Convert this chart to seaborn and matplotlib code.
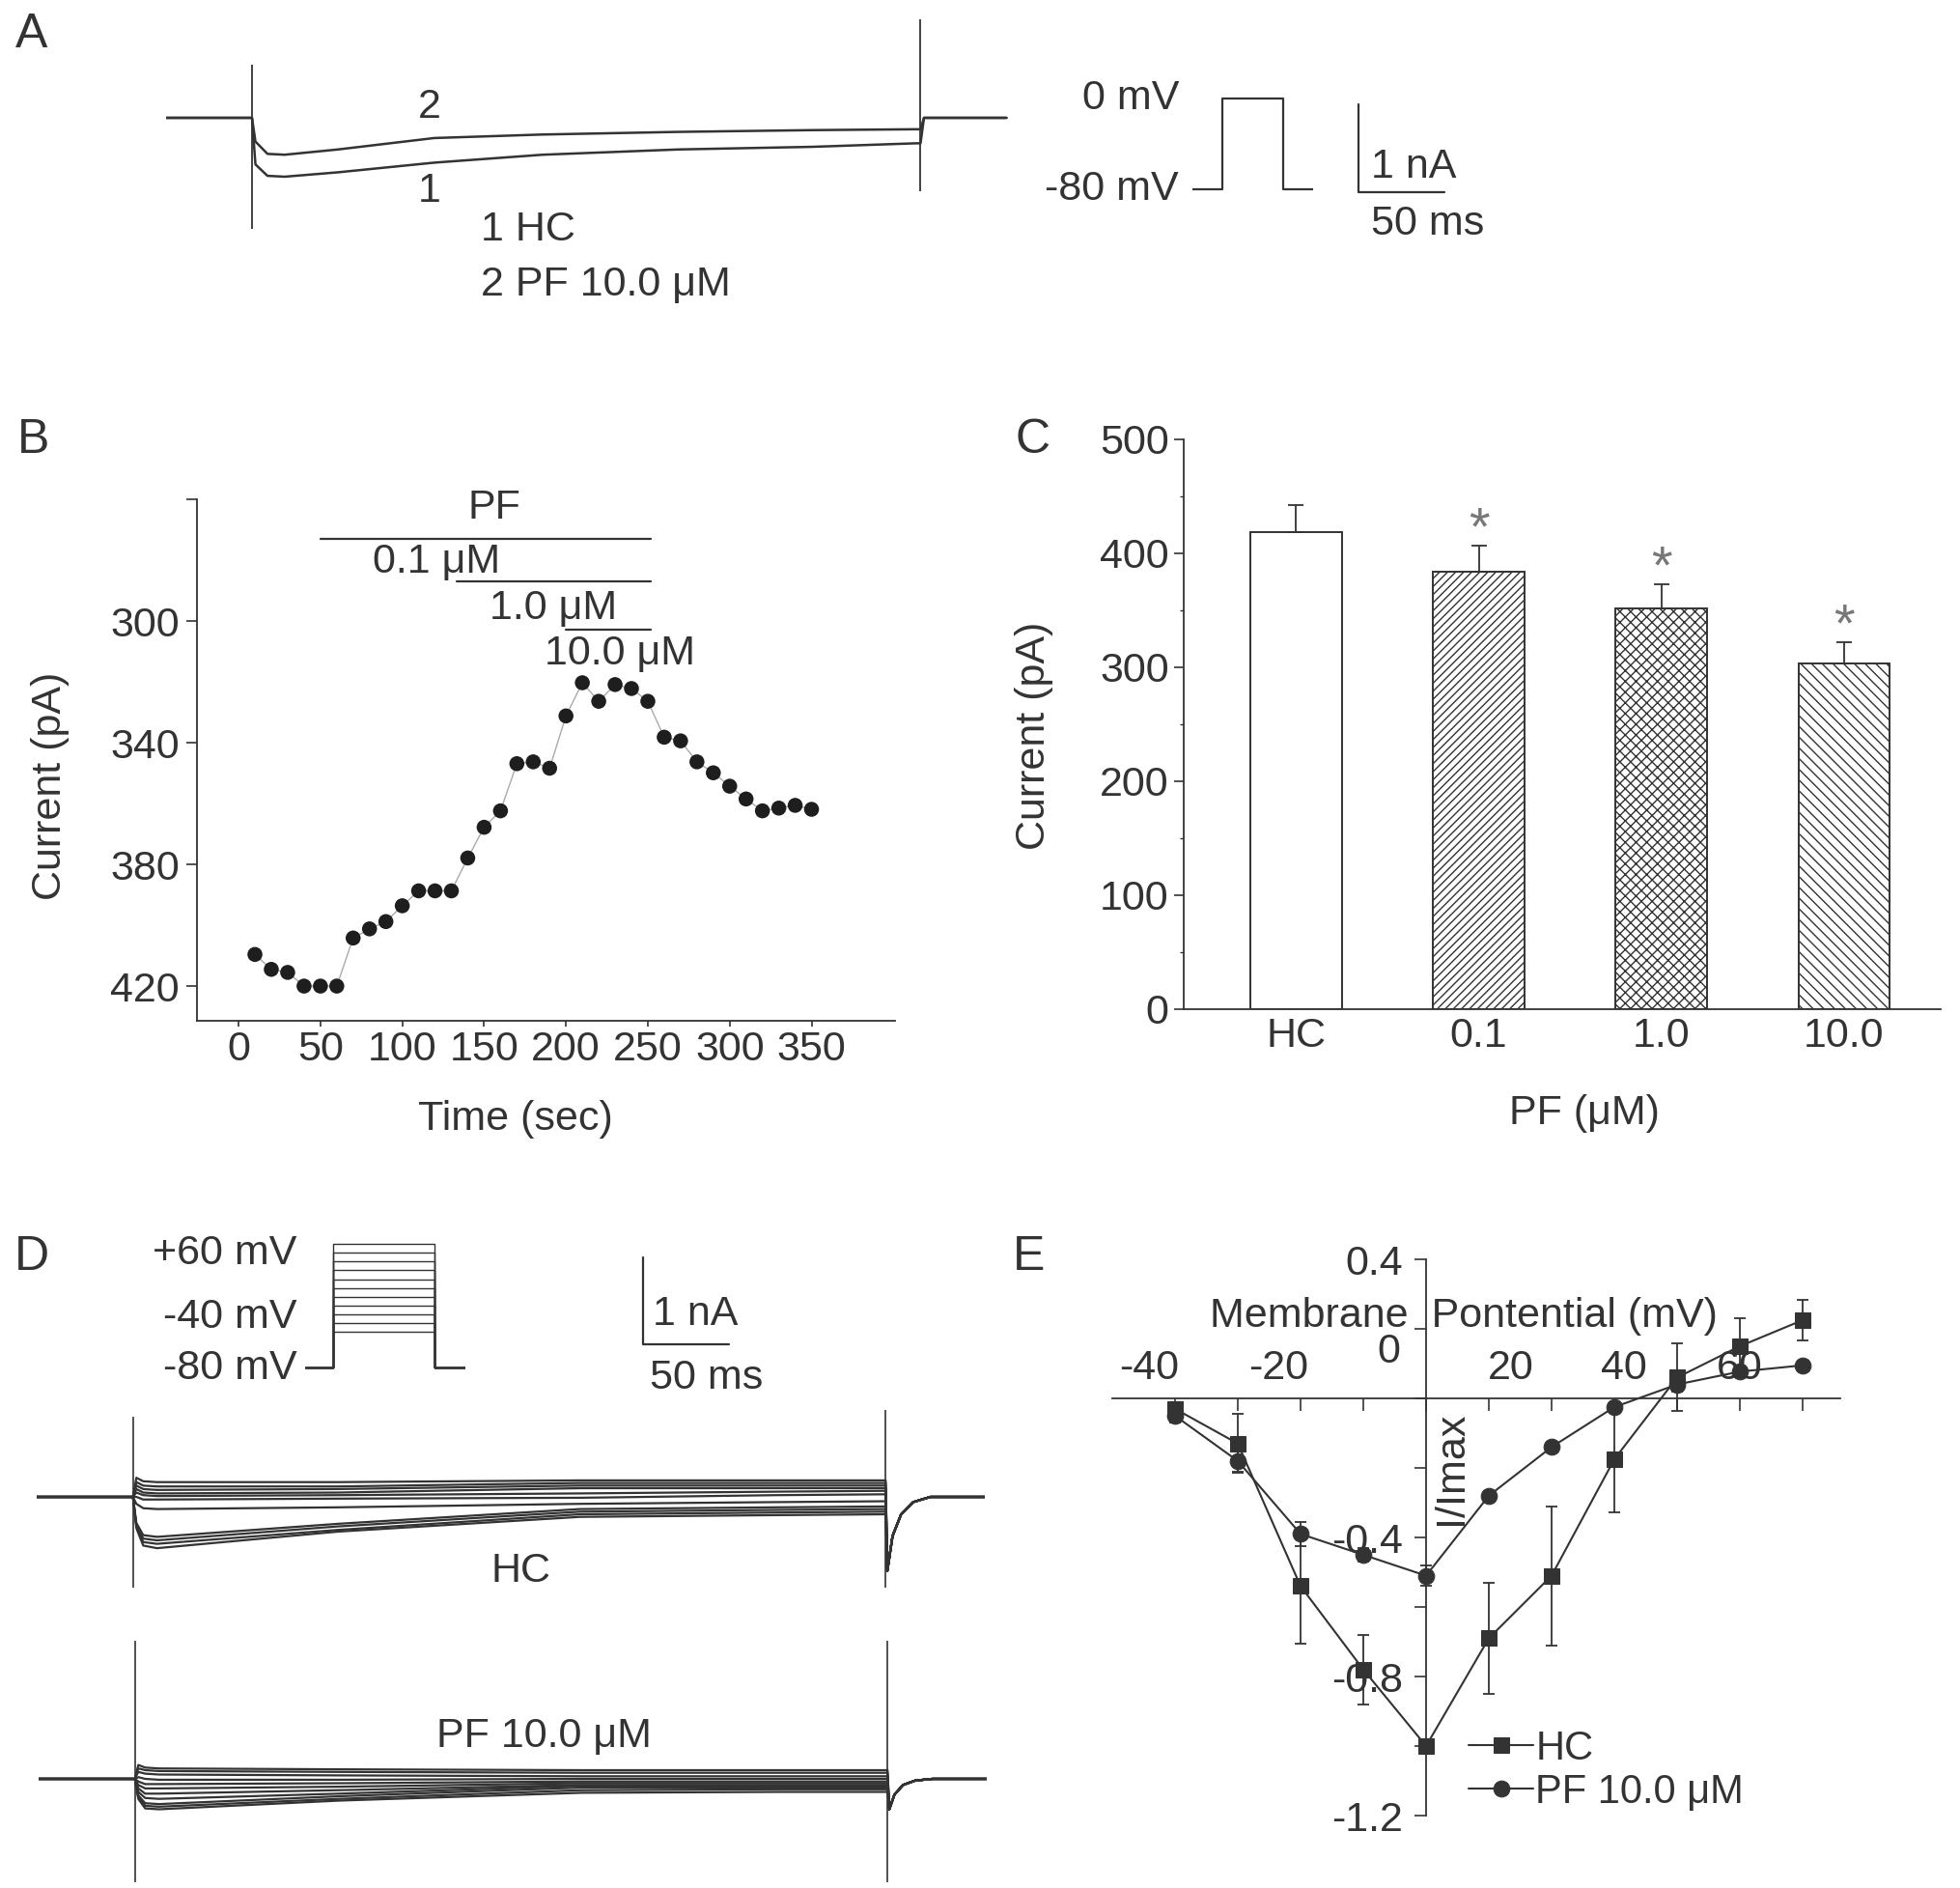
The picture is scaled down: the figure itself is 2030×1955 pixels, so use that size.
import matplotlib
matplotlib.use('Agg')
import matplotlib.pyplot as plt
import seaborn as sns

sns.set_theme(style='ticks')
plt.rcParams['font.family'] = ['Liberation Sans', 'DejaVu Sans']
plt.rcParams['hatch.color'] = '#444444'
plt.rcParams['hatch.linewidth'] = 1.0

INK = '#333333'
W, H = 2031, 1955
FS = 31

# ---------------- data ----------------
# Panel A: representative current traces (time in ms, current in nA)
a_time = [0, 50, 52, 59, 69, 100, 156, 219, 298, 376, 436, 439, 441, 489]
a_hc = [0, 0, -0.53, -0.66, -0.67, -0.62, -0.51, -0.42, -0.36, -0.33, -0.29, -0.29, 0, 0]
a_pf = [0, 0, -0.27, -0.41, -0.42, -0.36, -0.23, -0.19, -0.16, -0.14, -0.13, -0.13, 0, 0]
a_art_time = [50, 439]
a_art_top = [0.60, 1.12]
a_art_bot = [-1.26, -0.84]
a_prot_t = [0, 1, 1, 3, 3, 4]
a_prot_v = [-80, -80, 0, 0, -80, -80]
scale_ms = 50
scale_na = 1

# Panel B: time course of current
b_time = [10, 20, 30, 40, 50, 60, 70, 80, 90, 100, 110, 120, 130, 140, 150, 160, 170, 180,
          190, 200, 210, 220, 230, 240, 250, 260, 270, 280, 290, 300, 310, 320, 330, 340, 350]
b_current = [409.6, 414.5, 415.5, 420, 420, 420, 404.2, 401.2, 398.8, 393.6, 388.7, 388.7,
             388.7, 377.9, 367.8, 362.4, 346.9, 346.3, 348.4, 331.2, 320.3, 326.4, 320.9,
             322.2, 326.4, 338.2, 339.4, 346.3, 349.9, 354.3, 358.5, 362.4, 361.5, 360.6, 361.9]
b_dose_labels = ['0.1 μM', '1.0 μM', '10.0 μM']
b_dose_start = [50, 133, 200]
b_dose_end = [252, 252, 252]

# Panel C: mean current per group
c_groups = ['HC', '0.1', '1.0', '10.0']
c_mean = [419, 384, 352, 303]
c_sem = [23, 23, 21, 19]
c_sig = ['', '*', '*', '*']

# Panel D: family of current traces (time in ms, current in nA)
d_time = [0, 56, 58, 62, 70, 175, 316, 430, 494]
d_tail_time = [495, 498, 503, 510, 520, 552]
d_hc = [
    [0, 0, 0.22, 0.18, 0.17, 0.17, 0.19, 0.19, 0.19],
    [0, 0, 0.17, 0.13, 0.12, 0.12, 0.16, 0.16, 0.16],
    [0, 0, 0.13, 0.09, 0.08, 0.09, 0.13, 0.13, 0.13],
    [0, 0, 0.09, 0.05, 0.04, 0.05, 0.10, 0.10, 0.10],
    [0, 0, 0.05, 0.02, 0.01, 0.02, 0.04, 0.06, 0.07],
    [0, 0, 0.00, -0.03, -0.03, -0.02, -0.01, 0.02, 0.03],
    [0, 0, -0.08, -0.13, -0.14, -0.12, -0.08, -0.06, -0.05],
    [0, 0, -0.30, -0.44, -0.46, -0.31, -0.14, -0.12, -0.11],
    [0, 0, -0.32, -0.48, -0.50, -0.34, -0.17, -0.15, -0.14],
    [0, 0, -0.34, -0.52, -0.54, -0.38, -0.20, -0.18, -0.17],
    [0, 0, -0.36, -0.56, -0.59, -0.40, -0.23, -0.21, -0.20],
]
d_pf = [
    [0, 0, 0.16, 0.13, 0.12, 0.11, 0.10, 0.10, 0.10],
    [0, 0, 0.12, 0.10, 0.09, 0.08, 0.07, 0.07, 0.07],
    [0, 0, 0.08, 0.06, 0.05, 0.04, 0.03, 0.03, 0.03],
    [0, 0, 0.02, 0.00, -0.01, -0.01, 0.00, 0.00, 0.00],
    [0, 0, -0.03, -0.06, -0.06, -0.05, -0.03, -0.03, -0.03],
    [0, 0, -0.07, -0.11, -0.11, -0.09, -0.05, -0.05, -0.05],
    [0, 0, -0.11, -0.17, -0.17, -0.13, -0.07, -0.07, -0.07],
    [0, 0, -0.15, -0.22, -0.23, -0.17, -0.08, -0.08, -0.08],
    [0, 0, -0.19, -0.28, -0.29, -0.20, -0.10, -0.10, -0.10],
    [0, 0, -0.21, -0.31, -0.32, -0.23, -0.13, -0.12, -0.12],
    [0, 0, -0.23, -0.34, -0.35, -0.25, -0.16, -0.15, -0.15],
]
d_hc_tail = [-0.85, -0.45, -0.20, -0.06, 0, 0]
d_pf_tail = [-0.35, -0.18, -0.07, -0.02, 0, 0]
d_art_time = [56, 494]
d_hc_art_top = [0.92, 1.00]
d_hc_art_bot = [-1.04, -1.04]
d_pf_art_top = [1.59, 1.59]
d_pf_art_bot = [-1.19, -1.19]
d_prot_t = [0, 10, 10, 46, 46, 57]
d_prot_levels = [-40, -30, -20, -10, 0, 10, 20, 30, 40, 50, 60]
d_hold = -80

# Panel E: normalized I-V relation
e_voltage = [-40, -30, -20, -10, 0, 10, 20, 30, 40, 50, 60]
e_hc = [-0.03, -0.13, -0.54, -0.78, -1.00, -0.69, -0.51, -0.175, 0.06, 0.15, 0.225]
e_hc_err = [0.02, 0.085, 0.165, 0.10, 0.02, 0.16, 0.20, 0.153, 0.097, 0.08, 0.057]
e_pf = [-0.05, -0.18, -0.39, -0.45, -0.51, -0.28, -0.14, -0.025, 0.04, 0.077, 0.095]
e_pf_err = [0.02, 0.03, 0.035, 0.02, 0.03, 0.01, 0.01, 0.01, 0.02, 0.01, 0.01]
e_xtick_labels = ['-40', '-20', '0', '20', '40', '60']
e_xtick_vals = [-40, -20, 0, 20, 40, 60]

# ---------------- figure ----------------
fig = plt.figure(figsize=(W / 100, H / 100), dpi=100)


def add_ax(l, t, r, b):
    return fig.add_axes([l / W, 1 - b / H, (r - l) / W, (b - t) / H])


def style_axis(ax):
    for s in ['top', 'right']:
        ax.spines[s].set_visible(False)
    for s in ['left', 'bottom']:
        ax.spines[s].set_color(INK)
        ax.spines[s].set_linewidth(1.3)
    ax.tick_params(colors=INK, labelcolor=INK, labelsize=FS, width=1.2)


# panel letters
for letter, (px, py) in zip('ABCDE', [(33, 36), (35, 456), (1070, 456), (33, 1302), (1066, 1302)]):
    fig.text(px / W, 1 - py / H, letter, fontsize=36, color=INK, ha='center', va='center')

# ---- Panel A ----
axA = add_ax(172, 13, 1520, 310)
axA.set_xlim(0, 757.3)
axA.set_ylim(-2.066, 1.198)
axA.axis('off')
axA.plot(a_time, a_hc, color=INK, lw=1.8)
axA.plot(a_time, a_pf, color=INK, lw=1.8)
axA.vlines(a_art_time, a_art_bot, a_art_top, color=INK, lw=1.3)
bx, by = 694, -0.846
axA.plot([bx, bx, bx + scale_ms], [by + scale_na, by, by], color=INK, lw=1.6)
axA.text(bx + 7, by + 0.29, f'{scale_na} nA', fontsize=FS, color=INK, ha='left', va='center')
axA.text(bx + 7, by - 0.36, f'{scale_ms} ms', fontsize=FS, color=INK, ha='left', va='center')
axA.text(153, 0.12, '2', fontsize=FS, color=INK, ha='center', va='center')
axA.text(153, -0.84, '1', fontsize=FS, color=INK, ha='center', va='center')
axA.text(183, -1.27, '1 HC', fontsize=FS, color=INK, ha='left', va='center')
axA.text(183, -1.90, '2 PF 10.0 μM', fontsize=FS, color=INK, ha='left', va='center')

axPA = add_ax(1235, 90, 1360, 210)
axPA.set_xlim(0, 4)
axPA.set_ylim(-91.9, 10.2)
axPA.axis('off')
axPA.plot(a_prot_t, a_prot_v, color=INK, lw=1.6)
axPA.annotate('0 mV', xy=(0, 0), xytext=(-10, 0), textcoords='offset points',
              ha='right', va='center', fontsize=FS, color=INK)
axPA.annotate('-80 mV', xy=(0, -80), xytext=(-10, 0), textcoords='offset points',
              ha='right', va='center', fontsize=FS, color=INK)

# ---- Panel B ----
axB = add_ax(204, 517, 927, 1057)
sns.lineplot(x=b_time, y=b_current, ax=axB, color='#aaaaaa', lw=1.0, sort=False, estimator=None)
sns.scatterplot(x=b_time, y=b_current, ax=axB, color='#1e1e1e', s=125, edgecolor='none', zorder=3)
axB.set_xlim(-25.4, 401)
axB.set_ylim(431.4, 260)
style_axis(axB)
axB.set_xticks([0, 50, 100, 150, 200, 250, 300, 350])
axB.set_yticks([260, 300, 340, 380, 420])
axB.set_yticklabels(['', '300', '340', '380', '420'])
axB.tick_params(axis='y', length=8, pad=5)
axB.tick_params(axis='x', length=4.5, pad=3)
axB.set_xlabel('Time (sec)', fontsize=FS, color=INK)
axB.set_ylabel('Current (pA)', fontsize=FS, color=INK)
axB.xaxis.set_label_coords(0.456, -0.189)
axB.xaxis.label.set_verticalalignment('center')
axB.yaxis.set_label_coords(-0.21, 0.45)
axB.yaxis.label.set_verticalalignment('center')
bar_y = [273, 287, 303]
lab_pos = [(121, 280.6), (192, 296), (233, 310.8)]
for s, e, yy, lbl, (tx, ty) in zip(b_dose_start, b_dose_end, bar_y, b_dose_labels, lab_pos):
    axB.plot([s, e], [yy, yy], color=INK, lw=1.6, clip_on=False)
    axB.text(tx, ty, lbl, fontsize=FS, color=INK, ha='center', va='center')
axB.text(156, 263, 'PF', fontsize=FS, color=INK, ha='center', va='center')

# ---- Panel C ----
axC = add_ax(1226, 455, 2010, 1045)
sns.barplot(x=c_groups, y=c_mean, order=c_groups, color='white', saturation=1,
            edgecolor=INK, linewidth=1.4, width=0.5, errorbar=None, ax=axC)
c_hatch = ['', '////', 'xxx', '\\\\\\']
for patch, hp in zip(axC.patches, c_hatch):
    patch.set_hatch(hp)
axC.errorbar(range(len(c_groups)), c_mean, yerr=[[0] * len(c_sem), c_sem], fmt='none',
             ecolor=INK, elinewidth=1.3, capsize=5.5, capthick=1.3, zorder=4)
for i, (m, e, sg) in enumerate(zip(c_mean, c_sem, c_sig)):
    if sg:
        axC.annotate(sg, xy=(i, m + e), xytext=(0, 11), textcoords='offset points',
                     ha='center', va='center', fontsize=40, color='#777777')
axC.set_xlim(-0.616, 3.53)
axC.set_ylim(0, 500)
style_axis(axC)
axC.set_yticks([0, 100, 200, 300, 400, 500])
axC.set_yticks([50, 150, 250, 350, 450], minor=True)
axC.tick_params(axis='y', which='major', length=7, pad=4)
axC.tick_params(axis='y', which='minor', length=3, width=1.0, color=INK)
axC.tick_params(axis='x', length=0, pad=6)
axC.set_xlabel('PF (μM)', fontsize=FS, color=INK)
axC.set_ylabel('Current (pA)', fontsize=FS, color=INK)
axC.xaxis.set_label_coords(0.529, -0.183)
axC.xaxis.label.set_verticalalignment('center')
axC.yaxis.set_label_coords(-0.198, 0.48)
axC.yaxis.label.set_verticalalignment('center')

# ---- Panel D ----
axDH = add_ax(38, 1290, 1020, 1660)
axDH.set_xlim(0, 551.7)
axDH.set_ylim(-1.222, 2.889)
axDH.axis('off')
for tr in d_hc:
    axDH.plot(d_time + d_tail_time, tr + d_hc_tail, color=INK, lw=1.6)
axDH.vlines(d_art_time, d_hc_art_bot, d_hc_art_top, color=INK, lw=1.2)
sx, sy = 352.8, 1.756
axDH.plot([sx, sx, sx + scale_ms], [sy + scale_na, sy, sy], color=INK, lw=1.6)
axDH.text(sx + 5.5, 2.10, f'{scale_na} nA', fontsize=FS, color=INK, ha='left', va='center')
axDH.text(sx + 4, 1.37, f'{scale_ms} ms', fontsize=FS, color=INK, ha='left', va='center')
axDH.text(282, -0.86, 'HC', fontsize=FS, color=INK, ha='center', va='center')

axDP = add_ax(40, 1689, 1022, 1950)
axDP.set_xlim(0, 551.7)
axDP.set_ylim(-1.2, 1.7)
axDP.axis('off')
for tr in d_pf:
    axDP.plot(d_time + d_tail_time, tr + d_pf_tail, color=INK, lw=1.6)
axDP.vlines(d_art_time, d_pf_art_bot, d_pf_art_top, color=INK, lw=1.2)
axDP.text(294, 0.49, 'PF 10.0 μM', fontsize=FS, color=INK, ha='center', va='center')

axDPr = add_ax(316, 1280, 482, 1425)
axDPr.set_xlim(0, 57)
axDPr.set_ylim(-89.8, 68.75)
axDPr.axis('off')
for lv in d_prot_levels:
    axDPr.plot(d_prot_t, [d_hold, d_hold, lv, lv, d_hold, d_hold], color=INK, lw=1.0)
axDPr.annotate('+60 mV', xy=(0, 60), xytext=(-6, -7), textcoords='offset points',
               ha='right', va='center', fontsize=FS, color=INK)
axDPr.annotate('-40 mV', xy=(0, -40), xytext=(-6, 11), textcoords='offset points',
               ha='right', va='center', fontsize=FS, color=INK)
axDPr.annotate('-80 mV', xy=(0, -80), xytext=(-6, -1), textcoords='offset points',
               ha='right', va='center', fontsize=FS, color=INK)

# ---- Panel E ----
FSE = 31
axE = add_ax(1152, 1304, 1906, 1880)
axE.errorbar(e_voltage, e_hc, yerr=e_hc_err, fmt='none', ecolor=INK, elinewidth=1.3,
             capsize=4, capthick=1.3, zorder=2)
axE.errorbar(e_voltage, e_pf, yerr=e_pf_err, fmt='none', ecolor=INK, elinewidth=1.3,
             capsize=4, capthick=1.3, zorder=2)
sns.lineplot(x=e_voltage, y=e_hc, ax=axE, color=INK, marker='s', markersize=11,
             markeredgecolor=INK, lw=1.5, label='HC', sort=False, estimator=None, zorder=3)
sns.lineplot(x=e_voltage, y=e_pf, ax=axE, color=INK, marker='o', markersize=12,
             markeredgecolor=INK, lw=1.5, label='PF 10.0 μM', sort=False, estimator=None, zorder=3)
axE.set_xlim(-50, 66)
axE.set_ylim(-1.2, 0.4)
for s in ['top', 'right']:
    axE.spines[s].set_visible(False)
for s in ['left', 'bottom']:
    axE.spines[s].set_position(('data', 0))
    axE.spines[s].set_color(INK)
    axE.spines[s].set_linewidth(1.3)
axE.set_xticks(e_voltage)
axE.set_xticklabels([''] * len(e_voltage))
axE.set_yticks([0.4, 0.2, 0, -0.2, -0.4, -0.6, -0.8, -1.0, -1.2])
axE.set_yticklabels(['0.4', '', '', '', '-0.4', '', '-0.8', '', '-1.2'])
axE.tick_params(colors=INK, labelcolor=INK, labelsize=FSE, width=1.2, length=9, direction='out')
axE.tick_params(axis='y', pad=8)
e_dx = [-19.4, -16.6, -28.1, -30.2, -39.6, -46.8]
e_dy = [22.3, 22.3, 34.6, 22.3, 22.3, 22.3]
for v, lbl, dx, dy in zip(e_xtick_vals, e_xtick_labels, e_dx, e_dy):
    axE.annotate(lbl, xy=(v, 0), xytext=(dx, dy), textcoords='offset points',
                 ha='center', va='center', fontsize=FSE, color=INK)
axE.set_xlabel('Membrane  Pontential (mV)', fontsize=FSE, color=INK)
axE.xaxis.set_label_coords(0.483, 0.898)
axE.xaxis.label.set_verticalalignment('center')
axE.set_ylabel('I/Imax', fontsize=FSE, color=INK)
axE.yaxis.set_label_coords(0.466, 0.625)
axE.yaxis.label.set_verticalalignment('center')
leg = axE.legend(loc='upper left', bbox_to_anchor=(0.49, 0.155), frameon=False,
                 handlelength=1.6, handletextpad=0.05, labelspacing=0.12,
                 borderaxespad=0, borderpad=0, fontsize=30)
for t in leg.get_texts():
    t.set_color(INK)

fig.savefig('out.png', dpi=100, facecolor='white')
